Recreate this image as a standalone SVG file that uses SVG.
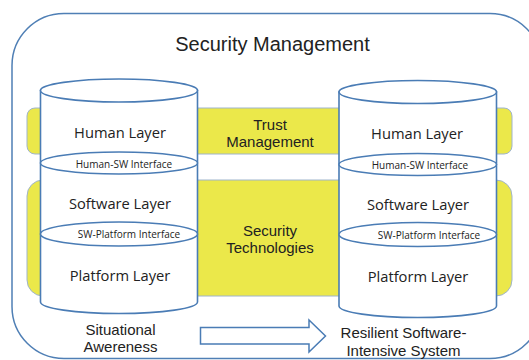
<svg xmlns="http://www.w3.org/2000/svg" width="529" height="360" viewBox="0 0 529 360">
<style>
.frame{fill:#ffffff;stroke:#4f7fb5;stroke-width:1.5}
.band{fill:#ebe84a;stroke:#9fb4cc;stroke-width:1}
.cyl{fill:#ffffff;stroke:#4a7cb5;stroke-width:1.6}
.arrow{fill:#ffffff;stroke:#4a7cb5;stroke-width:1.5}
.t{font-family:"Liberation Sans",Arial,sans-serif;fill:#222222;text-anchor:middle}
.l{font-family:"Open Sans","Noto Sans",sans-serif;fill:#222222;text-anchor:middle;font-size:14.7px}
.i{font-family:"Open Sans","Noto Sans",sans-serif;fill:#222222;text-anchor:middle;font-size:10px}
</style>
<g id="frame">
<rect class="frame" x="12" y="13.5" width="530" height="345" rx="52" ry="52"/>
<text class="t" x="272.5" y="50.5" font-size="20">Security Management</text>
</g>
<g id="trust-management">
<rect class="band" x="27" y="108" width="485" height="46" rx="8" ry="8"/>
<text class="t" x="270" y="130" font-size="15">Trust</text>
<text class="t" x="270" y="147" font-size="15">Management</text>
</g>
<g id="security-technologies">
<rect class="band" x="27" y="180" width="485" height="116" rx="16" ry="16"/>
<text class="t" x="270" y="235.5" font-size="15">Security</text>
<text class="t" x="270" y="252.5" font-size="15">Technologies</text>
</g>
<g id="left-system">
<path class="cyl" d="M40.5,90.5 L40.5,302 A78.5,11.5 0 0 0 197.5,302 L197.5,90.5 Z"/>
<ellipse class="cyl" cx="119" cy="90.5" rx="78.5" ry="11.5"/>
<ellipse class="cyl" cx="119" cy="163" rx="78.5" ry="11"/>
<ellipse class="cyl" cx="119" cy="234" rx="78.5" ry="12"/>
<text class="l" x="120" y="138">Human Layer</text>
<text class="i" x="124" y="168">Human-SW Interface</text>
<text class="l" x="120" y="208.5">Software Layer</text>
<text class="i" x="129" y="238">SW-Platform Interface</text>
<text class="l" x="120" y="280.5">Platform Layer</text>
</g>
<g id="right-system">
<path class="cyl" d="M339,92 L339,306 A78.75,11.5 0 0 0 496.5,306 L496.5,92 Z"/>
<ellipse class="cyl" cx="417.75" cy="92" rx="78.75" ry="11.5"/>
<ellipse class="cyl" cx="417.75" cy="164.5" rx="78.75" ry="11"/>
<ellipse class="cyl" cx="417.75" cy="234.5" rx="78.75" ry="12"/>
<text class="l" x="417" y="139">Human Layer</text>
<text class="i" x="420" y="168.5">Human-SW Interface</text>
<text class="l" x="418" y="209.5">Software Layer</text>
<text class="i" x="429" y="238.5">SW-Platform Interface</text>
<text class="l" x="418" y="282">Platform Layer</text>
</g>
<g id="situational-awareness">
<text class="t" x="120.5" y="335" font-size="15">Situational</text>
<text class="t" x="120.5" y="352" font-size="15">Awereness</text>
</g>
<g id="resilient-system">
<text class="t" x="403.5" y="338" font-size="15">Resilient Software-</text>
<text class="t" x="403.5" y="355.5" font-size="15">Intensive System</text>
</g>
<g id="connectors">
<path class="arrow" d="M200.5,327.5 L309,327.5 L309,320 L325.5,336 L309,352 L309,344 L200.5,344 Z"/>
</g>
</svg>
